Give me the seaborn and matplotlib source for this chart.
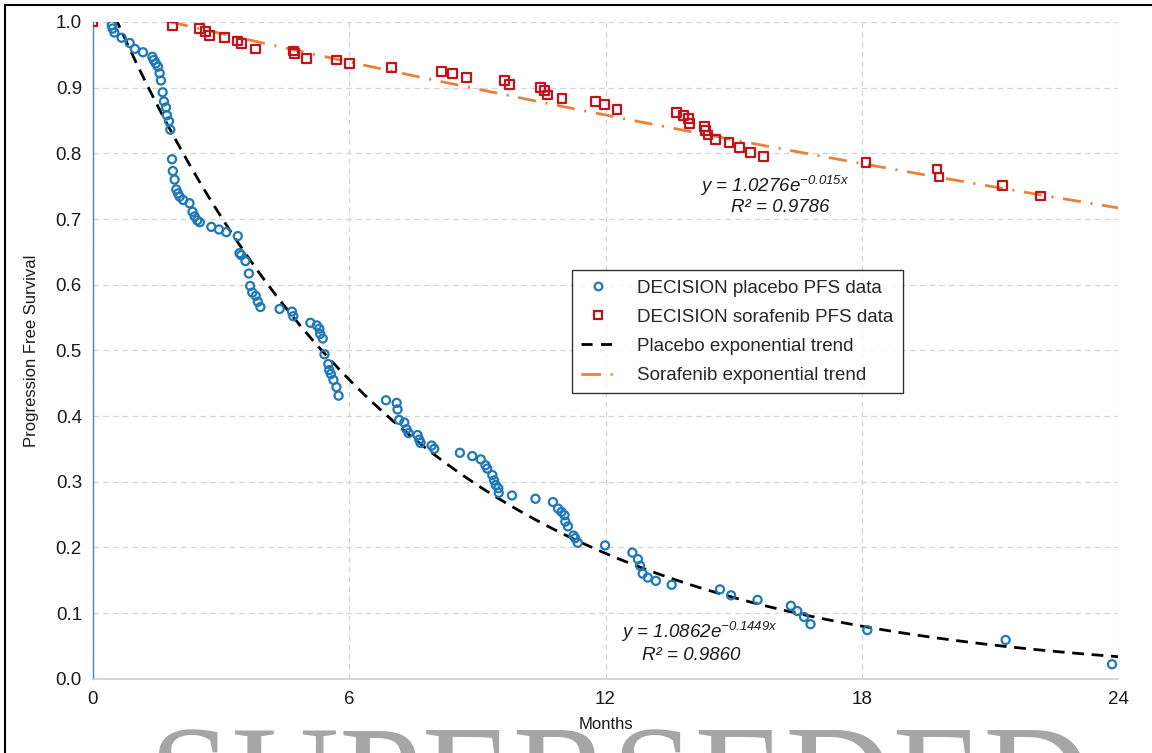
import numpy as np
import pandas as pd
import matplotlib
matplotlib.use("Agg")
import matplotlib.pyplot as plt
from matplotlib.lines import Line2D
from matplotlib.patches import Rectangle
import seaborn as sns

# ---- data ----
placebo_months = [0.44, 0.46, 0.50, 0.67, 0.86, 0.98, 1.17, 1.39, 1.42, 1.47, 1.52, 1.56, 1.59,
                  1.63, 1.66, 1.71, 1.73, 1.78, 1.81, 1.85, 1.87, 1.91, 1.95, 1.99, 2.03, 2.11,
                  2.26, 2.33, 2.38, 2.44, 2.50, 2.77, 2.95, 3.12, 3.39, 3.43, 3.47, 3.57, 3.65,
                  3.68, 3.73, 3.81, 3.86, 3.92, 4.37, 4.66, 4.69, 5.09, 5.24, 5.30, 5.32, 5.38,
                  5.42, 5.51, 5.53, 5.57, 5.63, 5.70, 5.75, 6.86, 7.11, 7.13, 7.17, 7.29, 7.34,
                  7.39, 7.60, 7.64, 7.67, 7.93, 7.99, 8.59, 8.88, 9.08, 9.19, 9.23, 9.35, 9.39,
                  9.43, 9.49, 9.50, 9.81, 10.36, 10.77, 10.89, 10.97, 11.04, 11.06, 11.12, 11.25,
                  11.29, 11.35, 11.99, 12.63, 12.76, 12.81, 12.87, 12.99, 13.18, 13.55, 14.68,
                  14.94, 15.56, 16.34, 16.49, 16.65, 16.80, 18.13, 21.37, 23.86]
placebo_pfs = [0.995, 0.990, 0.984, 0.976, 0.968, 0.959, 0.954, 0.947, 0.942, 0.937, 0.932, 0.922,
               0.911, 0.893, 0.879, 0.870, 0.858, 0.849, 0.836, 0.791, 0.773, 0.760, 0.745, 0.739,
               0.734, 0.729, 0.724, 0.711, 0.704, 0.698, 0.695, 0.688, 0.684, 0.680, 0.674, 0.648,
               0.645, 0.636, 0.617, 0.598, 0.588, 0.583, 0.574, 0.566, 0.563, 0.559, 0.552, 0.542,
               0.538, 0.533, 0.525, 0.518, 0.494, 0.479, 0.470, 0.464, 0.455, 0.444, 0.431, 0.424,
               0.420, 0.410, 0.394, 0.390, 0.380, 0.374, 0.371, 0.364, 0.359, 0.355, 0.350, 0.344,
               0.339, 0.334, 0.325, 0.320, 0.310, 0.302, 0.295, 0.290, 0.283, 0.279, 0.274, 0.269,
               0.259, 0.254, 0.249, 0.239, 0.232, 0.218, 0.214, 0.207, 0.203, 0.192, 0.182, 0.172,
               0.160, 0.154, 0.149, 0.143, 0.136, 0.127, 0.120, 0.111, 0.103, 0.094, 0.083, 0.074,
               0.059, 0.022]

sorafenib_months = [0.0, 1.86, 2.50, 2.64, 2.72, 3.08, 3.39, 3.47, 3.81, 4.70, 4.72, 4.99, 5.70,
                    6.00, 6.99, 8.16, 8.41, 8.75, 9.64, 9.76, 10.48, 10.58, 10.65, 10.98, 11.76,
                    11.97, 12.27, 13.66, 13.83, 13.95, 13.97, 14.31, 14.35, 14.40, 14.58, 14.89,
                    15.13, 15.40, 15.70, 18.10, 19.76, 19.81, 21.29, 22.18]
sorafenib_pfs = [1.000, 0.994, 0.990, 0.985, 0.980, 0.976, 0.971, 0.967, 0.959, 0.956, 0.952,
                 0.945, 0.942, 0.937, 0.931, 0.925, 0.921, 0.915, 0.911, 0.905, 0.900, 0.896,
                 0.889, 0.883, 0.879, 0.874, 0.867, 0.862, 0.858, 0.853, 0.845, 0.841, 0.835,
                 0.828, 0.821, 0.816, 0.809, 0.801, 0.795, 0.786, 0.776, 0.764, 0.751, 0.735]

# exponential trend coefficients shown on the chart
placebo_a, placebo_b = 1.0862, -0.1449
sorafenib_a, sorafenib_b = 1.0276, -0.015

series_labels = ["DECISION placebo PFS data", "DECISION sorafenib PFS data",
                 "Placebo exponential trend", "Sorafenib exponential trend"]
x_ticks = [0, 6, 12, 18, 24]
y_ticks = [0.0, 0.1, 0.2, 0.3, 0.4, 0.5, 0.6, 0.7, 0.8, 0.9, 1.0]

# ---- style ----
sns.set_style("white")
plt.rcParams["font.family"] = ["Liberation Sans", "DejaVu Sans"]
plt.rcParams["mathtext.fontset"] = "custom"
plt.rcParams["mathtext.rm"] = "Liberation Sans:italic"
plt.rcParams["mathtext.it"] = "Liberation Sans:italic"
plt.rcParams["lines.scale_dashes"] = False

BLUE = "#1F78B8"
RED = "#C0141C"
ORANGE = "#E8823A"

fig = plt.figure(figsize=(11.52, 7.53), dpi=100)
ax = fig.add_axes([93 / 1152, 1 - 678.7 / 753, (1118 - 93) / 1152, (678.7 - 22) / 753])

# trend curves
xs = np.linspace(0, 24, 400)
trend_df = pd.DataFrame({
    "month": np.concatenate([xs, xs]),
    "pfs": np.concatenate([placebo_a * np.exp(placebo_b * xs), sorafenib_a * np.exp(sorafenib_b * xs)]),
    "series": [series_labels[2]] * len(xs) + [series_labels[3]] * len(xs),
})
sns.lineplot(data=trend_df[trend_df.series == series_labels[2]], x="month", y="pfs",
             color="black", linewidth=2.0, ax=ax, legend=False, sort=False, estimator=None)
l_plac = ax.lines[-1]
l_plac.set_dashes((8.5, 5.5))
sns.lineplot(data=trend_df[trend_df.series == series_labels[3]], x="month", y="pfs",
             color=ORANGE, linewidth=2.0, ax=ax, legend=False, sort=False, estimator=None)
l_sor = ax.lines[-1]
l_sor.set_dashes((13, 7, 1.5, 7))

# data points
sns.scatterplot(x=placebo_months, y=placebo_pfs, ax=ax, marker="o", s=34,
                facecolors="none", edgecolor=BLUE, linewidth=1.6, zorder=4, legend=False)
sns.scatterplot(x=sorafenib_months, y=sorafenib_pfs, ax=ax, marker="s", s=40,
                facecolors="none", edgecolor=RED, linewidth=1.6, zorder=4, legend=False)

ax.set_xlim(0, 24)
ax.set_ylim(0, 1.0)
ax.set_xticks(x_ticks)
ax.set_xticklabels([str(t) for t in x_ticks])
ax.set_yticks(y_ticks)
ax.set_yticklabels([f"{t:.1f}" for t in y_ticks])
ax.tick_params(axis="both", length=0, labelsize=13.5, colors="#1a1a1a")
ax.tick_params(axis="y", pad=8)
ax.tick_params(axis="x", pad=9)

ax.grid(True, color="#D4D4D4", linestyle=(0, (4, 3)), linewidth=0.9)
ax.set_axisbelow(True)
for s in ["top", "right"]:
    ax.spines[s].set_visible(False)
ax.spines["left"].set_color("#3F88B8")
ax.spines["left"].set_linewidth(1.0)
ax.spines["bottom"].set_color("#D0D0D0")
ax.spines["bottom"].set_linewidth(1.2)

ax.set_xlabel("Months", fontsize=12, labelpad=6, color="#1a1a1a")
ax.set_ylabel("Progression Free Survival", fontsize=12, labelpad=12, color="#1a1a1a")

# trend equations
eq_kw = dict(ha="center", va="center", fontsize=13.5, style="italic", color="#1a1a1a")
ax.text(15.95, 0.750, r"y = 1.0276e$^{-0.015x}$", **eq_kw)
ax.text(16.1, 0.717, "R² = 0.9786", **eq_kw)
ax.text(14.2, 0.071, r"y = 1.0862e$^{-0.1449x}$", **eq_kw)
ax.text(14.0, 0.036, "R² = 0.9860", **eq_kw)

# legend
handles = [
    Line2D([], [], linestyle="none", marker="o", markersize=5.5, markerfacecolor="none",
           markeredgecolor=BLUE, markeredgewidth=1.6),
    Line2D([], [], linestyle="none", marker="s", markersize=6, markerfacecolor="none",
           markeredgecolor=RED, markeredgewidth=1.6),
    Line2D([], [], color="black", linewidth=2.0, dashes=(8, 6)),
    Line2D([], [], color=ORANGE, linewidth=2.0, dashes=(14, 7, 1.5, 7)),
]
leg = ax.legend(handles, series_labels, loc="upper left", bbox_to_anchor=(0.467, 0.622),
                borderaxespad=0, frameon=True, fancybox=False, edgecolor="black", fontsize=13.5,
                handlelength=1.8, handletextpad=1.2, labelspacing=0.64, borderpad=0.5)
leg.get_frame().set_linewidth(1.0)

# outer frame (top and left visible)
fig.patches.append(Rectangle((5 / 1152, -0.2), 1.2, 1.2 - 4.5 / 753,
                             transform=fig.transFigure, fill=False, edgecolor="black",
                             linewidth=1.5, zorder=10))

# watermark
fig.text(0.538, -0.100, "SUPERSEDED", ha="center", va="baseline", fontsize=107,
         family="Liberation Serif", color="#A6A6A6")

fig.savefig("out.png", dpi=100)
